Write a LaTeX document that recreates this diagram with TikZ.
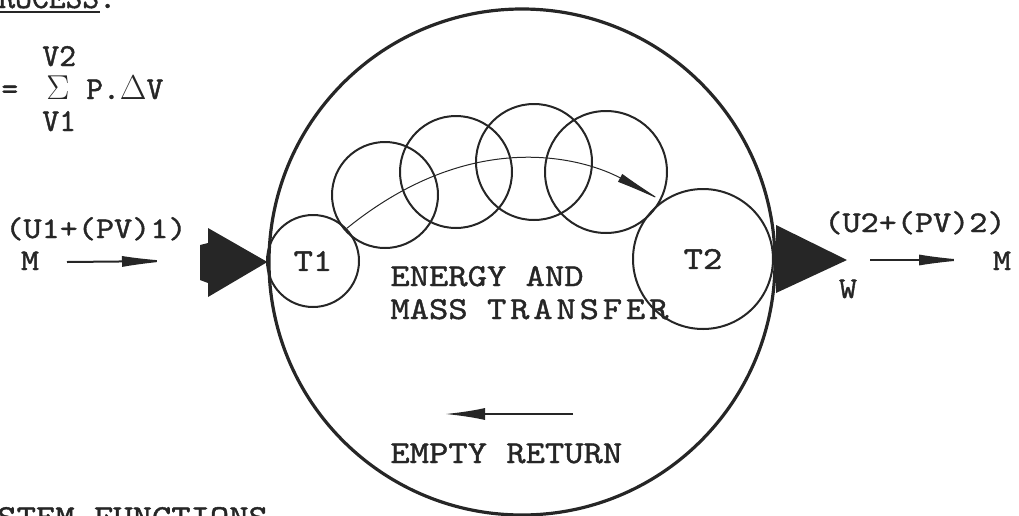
\documentclass[tikz,border=0pt]{standalone}
\usepackage{fontspec}
\newfontfamily\tw[Extension=.otf, FakeStretch=1.15, FakeBold=1.2]{lmmono10-regular}
\newfontfamily\twn[Extension=.otf, FakeBold=1.2]{lmmono10-regular}
\usetikzlibrary{arrows.meta}

\begin{document}
\begin{tikzpicture}[x=0.5pt, y=-0.5pt,
    ring/.style={draw=black!85, circle, line width=1pt, inner sep=0pt},
    txt/.style={font=\tw\fontsize{15}{18}\selectfont, text=black!85, inner sep=0pt, anchor=base},
    intxt/.style={font=\tw\fontsize{16}{19}\selectfont, text=black!85, inner sep=0pt, anchor=base west},
    eqtxt/.style={font=\twn\fontsize{16}{19}\selectfont, text=black!85, inner sep=0pt, anchor=base west},
    flow/.style={draw=black!85, line width=1pt, -{Latex[length=24pt, width=5.5pt]}}]
  \useasboundingbox (0,0) rectangle (1019,515);
  \clip (0,0) rectangle (1019,515);

  % heading and work sum
  \node[eqtxt] (head) at (-2,8) {ROCESS:};
  \draw[line width=1pt, black!85] (0,12) -- (100,12);
  \node[eqtxt] (vtop) at (42,66) {V2};
  \node[eqtxt] (eq) at (1,99) {=};
  \node[eqtxt] (sum) at (46,99) {$\Sigma$ P.$\Delta$V};
  \node[eqtxt] (vbot) at (42,131) {V1};

  % system boundary and stages
  \node[ring, line width=1.6pt, minimum size=253pt] (sys) at (522,262) {};
  \node[ring, font=\tw\fontsize{16}{19}\selectfont, text=black!85, minimum size=46pt] (t1) at (313,261) {T1};
  \node[ring, font=\tw\fontsize{16}{19}\selectfont, text=black!85, minimum size=70pt] (t2) at (703,259) {T2};
  \foreach \cx/\cy/\r [count=\i] in {385/195/53, 456/172/56, 534/162/58, 606/172/61}
    \node[ring, minimum size=\r pt] (c\i) at (\cx,\cy) {};
  \draw[line width=0.5pt, black!85, -{Latex[length=24pt, width=4.5pt]}]
    (t1.44) .. controls (478,122) and (591,162) .. (t2.125);

  % inlet and outlet
  \fill[black!85] (208,228) -- (sys.west) -- (208,297) -- (208,283) -- (200,280)
    -- (200,245) -- (208,243) -- cycle;
  \fill[black!85] (776,225) -- (847,260) -- (776,293) -- cycle;

  \node[txt, anchor=base west] (in) at (5,238) {(U1+(PV)1)};
  \node[txt] (min) at (30,270) {M};
  \coordinate (inA) at (67,262);
  \coordinate (inB) at (170,261);
  \draw[flow] (inA) -- (inB);

  \node[txt, anchor=base west] (out) at (824,232) {(U2+(PV)2)};
  \node[txt] (mout) at (1002,270) {M};
  \node[txt] (w) at (848,298) {W};
  \coordinate (outA) at (870,260);
  \coordinate (outB) at (967,260);
  \draw[flow] (outA) -- (outB);

  % inside the system
  \node[intxt] (ema) at (390,286) {ENERGY AND};
  \node[intxt] (emb) at (390,319) {MASS {\addfontfeature{LetterSpace=12}TRANSFER}};
  \coordinate (retA) at (573,414);
  \coordinate (retB) at (445,414);
  \draw[flow, -{Latex[length=20pt, width=6pt]}] (retA) -- (retB);
  \node[intxt] (ret) at (390,463) {EMPTY RETURN};

  \node[intxt] (foot) at (-3,527) {STEM FUNCTIONS};
\end{tikzpicture}
\end{document}
